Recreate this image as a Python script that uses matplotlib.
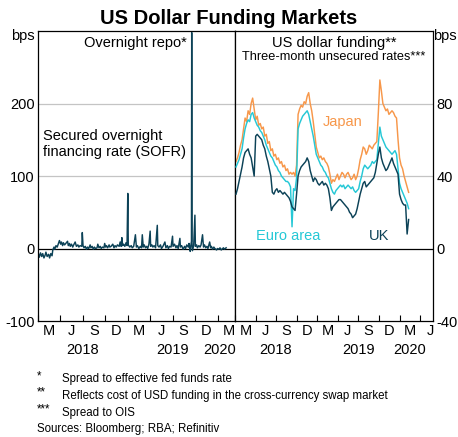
import pandas as pd
import matplotlib
matplotlib.use("Agg")
import matplotlib.pyplot as plt
import matplotlib.dates as mdates
from matplotlib.ticker import FixedLocator, FuncFormatter, NullFormatter

plt.rcParams["font.family"] = ["Liberation Sans", "DejaVu Sans"]
plt.rcParams["axes.unicode_minus"] = False

# ---- left panel: SOFR spread to effective fed funds rate (bps)
sofr_dates = [
  "2018-01-02", "2018-01-05", "2018-01-10", "2018-01-15", "2018-01-19", "2018-01-24",
  "2018-01-29", "2018-02-01", "2018-02-06", "2018-02-12", "2018-02-16", "2018-02-21",
  "2018-02-26", "2018-03-01", "2018-03-06", "2018-03-09", "2018-03-14", "2018-03-19",
  "2018-03-23", "2018-03-28", "2018-04-02", "2018-04-05", "2018-04-10", "2018-04-13",
  "2018-04-18", "2018-04-23", "2018-04-30", "2018-05-03", "2018-05-08", "2018-05-11",
  "2018-05-16", "2018-05-21", "2018-05-25", "2018-05-31", "2018-06-05", "2018-06-11",
  "2018-06-15", "2018-06-20", "2018-06-27", "2018-06-29", "2018-07-02", "2018-07-06",
  "2018-07-11", "2018-07-16", "2018-07-20", "2018-07-25", "2018-07-31", "2018-08-03",
  "2018-08-08", "2018-08-13", "2018-08-17", "2018-08-22", "2018-08-28", "2018-08-31",
  "2018-09-05", "2018-09-10", "2018-09-14", "2018-09-19", "2018-09-25", "2018-09-28",
  "2018-10-02", "2018-10-05", "2018-10-10", "2018-10-16", "2018-10-19", "2018-10-24",
  "2018-10-31", "2018-11-05", "2018-11-09", "2018-11-14", "2018-11-19", "2018-11-26",
  "2018-11-30", "2018-12-04", "2018-12-07", "2018-12-10", "2018-12-14", "2018-12-19",
  "2018-12-24", "2018-12-28", "2018-12-31", "2019-01-02", "2019-01-08", "2019-01-14",
  "2019-01-18", "2019-01-24", "2019-01-31", "2019-02-04", "2019-02-08", "2019-02-14",
  "2019-02-20", "2019-02-25", "2019-02-28", "2019-03-04", "2019-03-08", "2019-03-13",
  "2019-03-18", "2019-03-22", "2019-03-27", "2019-04-01", "2019-04-03", "2019-04-08",
  "2019-04-12", "2019-04-17", "2019-04-23", "2019-04-30", "2019-05-02", "2019-05-07",
  "2019-05-13", "2019-05-17", "2019-05-23", "2019-05-31", "2019-06-04", "2019-06-10",
  "2019-06-14", "2019-06-19", "2019-06-25", "2019-07-01", "2019-07-03", "2019-07-09",
  "2019-07-15", "2019-07-19", "2019-07-24", "2019-07-31", "2019-08-02", "2019-08-07",
  "2019-08-13", "2019-08-19", "2019-08-23", "2019-08-28", "2019-09-03", "2019-09-06",
  "2019-09-11", "2019-09-13", "2019-09-16", "2019-09-17", "2019-09-18", "2019-09-20",
  "2019-09-25", "2019-09-30", "2019-10-02", "2019-10-07", "2019-10-10", "2019-10-16",
  "2019-10-21", "2019-10-25", "2019-10-31", "2019-11-04", "2019-11-08", "2019-11-13",
  "2019-11-18", "2019-11-22", "2019-11-29", "2019-12-03", "2019-12-06", "2019-12-11",
  "2019-12-16", "2019-12-20", "2019-12-27", "2019-12-31", "2020-01-06", "2020-01-10",
  "2020-01-15", "2020-01-21", "2020-01-24", "2020-01-28", "2020-01-31", "2020-02-04",
]
sofr_bps = [
  -8, -12, -6, -11, -7, -13,
  -9, -5, -11, -8, -13, -7,
  -10, -2, 2, -1, 4, 2,
  6, 11, 6, 9, 4, 8,
  5, 7, 10, 4, 7, 3,
  6, 2, 5, 9, 3, 5,
  2, 4, 3, 22, 4, 1,
  3, -1, 2, 0, 5, 1,
  3, -1, 2, 0, 1, 6,
  1, 3, 0, 2, 1, 7,
  2, 4, 1, 5, 2, 3,
  6, 1, 4, 2, 5, 3,
  9, 3, 15, 4, 6, 3,
  8, 4, 76, 5, 2, 4,
  1, 3, 19, 2, 4, 0,
  3, 1, 19, 2, 5, 1,
  3, 0, 6, 24, 3, 5,
  2, 4, 1, 32, 4, 2,
  5, 0, 3, 9, 1, 4,
  0, 3, 2, 17, 3, 6,
  1, 4, 0, 14, 2, 4,
  -1, 3, 0, 5, 2, 7,
  -4, 3, 10, 298, 10, -3,
  4, 46, 3, 5, 1, 4,
  2, 5, 19, 2, 5, 1,
  3, 0, 9, 1, 3, -1,
  2, 0, -2, 0, -1, 1,
  -2, 0, 1, -1, 0, 1,
]

# ---- right panel: three-month USD funding via FX swaps, spread to OIS (bps), ~weekly
funding_first = "2018-01-04"
funding_last = "2020-02-10"
japan = [
  48, 50, 53, 57, 60, 66, 72, 70, 76, 74,
  80, 83, 77, 71, 73, 68, 69, 66, 67, 62,
  63, 58, 59, 54, 55, 51, 52, 49, 50, 47,
  48, 45, 46, 43, 44, 41, 42, 41, 42, 40,
  46, 74, 77, 79, 78, 81, 80, 84, 86, 80,
  76, 70, 63, 56, 53, 50, 51, 49, 50, 48,
  47, 45, 41, 36, 38, 37, 39, 41, 38, 40,
  42, 41, 39, 41, 42, 40, 38, 39, 41, 38,
  40, 44, 49, 52, 56, 55, 52, 54, 57, 56,
  55, 57, 58, 59, 75, 93, 87, 80, 78, 76,
  77, 74, 75, 76, 75, 73, 72, 60, 50, 46,
  44, 40, 37, 34, 31,
]
euro = [
  45, 47, 49, 52, 55, 61, 66, 69, 71, 70,
  74, 75, 72, 70, 68, 67, 65, 64, 62, 60,
  57, 55, 53, 51, 50, 48, 46, 45, 43, 42,
  40, 39, 38, 37, 37, 36, 34, 12, 33, 32,
  39, 66, 69, 71, 73, 74, 75, 76, 74, 70,
  66, 62, 57, 52, 50, 48, 46, 45, 43, 42,
  40, 39, 36, 33, 31, 30, 32, 33, 34, 35,
  34, 35, 33, 34, 35, 34, 33, 34, 32, 31,
  32, 33, 37, 40, 44, 46, 45, 44, 45, 46,
  48, 47, 48, 49, 58, 67, 62, 60, 58, 56,
  55, 54, 53, 52, 53, 54, 52, 44, 36, 33,
  31, 29, 27, 25, 22,
]
uk = [
  30, 33, 37, 41, 45, 50, 53, 54, 55, 52,
  50, 45, 40, 62, 63, 62, 61, 60, 57, 55,
  51, 48, 44, 40, 31, 30, 32, 33, 31, 32,
  31, 30, 31, 30, 29, 28, 26, 23, 22, 21,
  30, 40, 43, 45, 46, 47, 48, 50, 48, 43,
  40, 37, 39, 38, 36, 35, 36, 37, 35, 36,
  35, 33, 28, 21, 23, 24, 25, 26, 27, 27,
  26, 25, 24, 23, 22, 20, 19, 17, 18, 19,
  22, 26, 30, 33, 36, 37, 34, 35, 36, 37,
  38, 39, 42, 47, 52, 56, 50, 47, 45, 43,
  44, 46, 48, 50, 47, 45, 43, 41, 30, 27,
  25, 24, 24, 8, 16,
]
weeks = pd.date_range(funding_first, funding_last, periods=len(japan))

DARK = "#0c4257"
ORANGE = "#f7974a"
CYAN = "#25c8d6"
GRID = "#c4c4c4"
FS = 10.5
LW = 1.05


def dress(ax, end, years):
  qs = pd.date_range("2018-01-01", "2020-07-01", freq="QS")
  ax.set_xlim(qs[0], pd.Timestamp(end))
  inside = [q for q in qs if q <= pd.Timestamp(end)]
  ax.xaxis.set_major_locator(FixedLocator(mdates.date2num(inside)))
  ax.xaxis.set_major_formatter(NullFormatter())
  mids = [q + pd.Timedelta(days=45) for q in qs[:-1] if q + pd.Timedelta(days=45) <= pd.Timestamp(end)]
  ax.xaxis.set_minor_locator(FixedLocator(mdates.date2num(mids)))
  ax.xaxis.set_minor_formatter(FuncFormatter(
    lambda v, p: "MJSD"[(mdates.num2date(v).month - 1) // 3]))
  ax.tick_params(axis="x", which="major", direction="in", length=4, width=0.8)
  ax.tick_params(axis="x", which="minor", length=0, pad=2.5, labelsize=FS)
  ax.tick_params(axis="y", length=0, labelsize=FS, pad=2.5)
  for lab, d in years:
    ax.text(mdates.date2num(pd.Timestamp(d)), -0.076, lab,
            transform=ax.get_xaxis_transform(), ha="center", va="top", fontsize=FS)
  for s in ax.spines.values():
    s.set_linewidth(0.9)


fig = plt.figure(figsize=(4.58, 4.37), dpi=100)
axl = fig.add_axes([0.0836, 0.2654, 0.430, 0.6636])
axr = fig.add_axes([0.5138, 0.2654, 0.431, 0.6636])

# left
axl.set_ylim(-100, 300)
axl.set_yticks([-100, 0, 100, 200])
for g in (100, 200):
  axl.axhline(g, color=GRID, lw=0.9, zorder=0)
axl.axhline(0, color="black", lw=0.9, zorder=1)
axl.plot(pd.to_datetime(sofr_dates), sofr_bps, color=DARK, lw=LW, zorder=2)
dress(axl, "2020-03-12", [("2018", "2018-07-01"), ("2019", "2019-07-01"), ("2020", "2020-01-08")])
axl.text(0.493, 0.957, "Overnight repo*", transform=axl.transAxes,
         ha="center", va="center", fontsize=FS)
axl.text(0.025, 0.61, "Secured overnight\nfinancing rate (SOFR)", transform=axl.transAxes,
         ha="left", va="center", fontsize=FS, linespacing=1.25)

# right
axr.set_ylim(-40, 120)
axr.set_yticks([-40, 0, 40, 80])
axr.yaxis.tick_right()
for g in (40, 80):
  axr.axhline(g, color=GRID, lw=0.9, zorder=0)
axr.axhline(0, color="black", lw=0.9, zorder=1)
axr.plot(weeks, japan, color=ORANGE, lw=LW, zorder=2)
axr.plot(weeks, euro, color=CYAN, lw=LW, zorder=3)
axr.plot(weeks, uk, color=DARK, lw=LW, zorder=4)
dress(axr, "2020-05-27", [("2018", "2018-07-01"), ("2019", "2019-07-01"), ("2020", "2020-02-15")])
axr.text(0.5, 0.957, "US dollar funding**", transform=axr.transAxes,
         ha="center", va="center", fontsize=FS)
axr.text(0.5, 0.91, "Three-month unsecured rates***", transform=axr.transAxes,
         ha="center", va="center", fontsize=9.2)
axr.text(0.546, 0.6875, "Japan", color=ORANGE, transform=axr.transAxes,
         ha="center", va="center", fontsize=FS)
axr.text(0.267, 0.294, "Euro area", color=CYAN, transform=axr.transAxes,
         ha="center", va="center", fontsize=FS)
axr.text(0.728, 0.294, "UK", color=DARK, transform=axr.transAxes,
         ha="center", va="center", fontsize=FS)

# figure texts
fig.text(0.5, 1 - 18 / 437, "US Dollar Funding Markets", ha="center", va="center",
         fontsize=14.5, weight="bold")
fig.text(22.5 / 458, 1 - 36 / 437, "bps", ha="center", va="center", fontsize=FS)
fig.text(445 / 458, 1 - 36 / 437, "bps", ha="center", va="center", fontsize=FS)

notes = [
  ("*", "Spread to effective fed funds rate"),
  ("**", "Reflects cost of USD funding in the cross-currency swap market"),
  ("***", "Spread to OIS"),
]
for i, (mark, txt) in enumerate(notes):
  y = 1 - (379 + 16.8 * i) / 437
  fig.text(37 / 458, y + 0.007, mark, ha="left", va="center", fontsize=8.3)
  fig.text(62 / 458, y, txt, ha="left", va="center", fontsize=8.3)
fig.text(37 / 458, 1 - 429 / 437, "Sources: Bloomberg; RBA; Refinitiv",
         ha="left", va="center", fontsize=8.3)

fig.savefig("out.png", dpi=100)
